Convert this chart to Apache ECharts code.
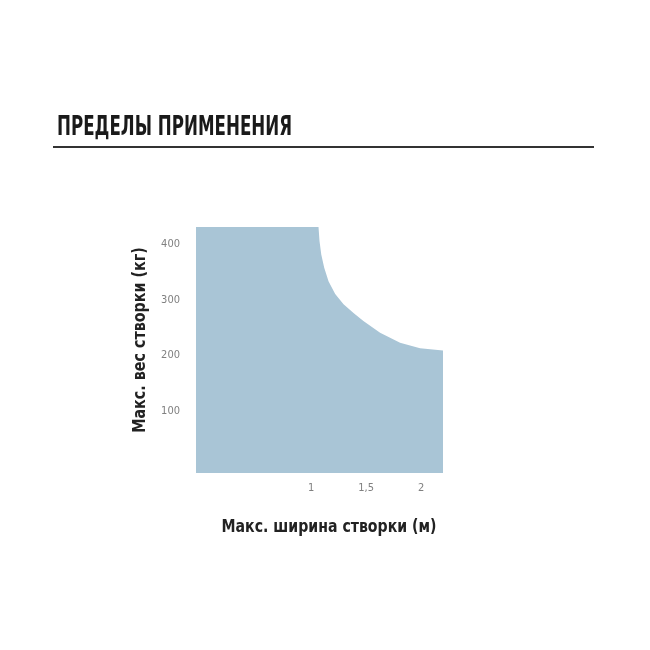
<!DOCTYPE html>
<html>
<head>
<meta charset="utf-8">
<script src="https://cdn.jsdelivr.net/npm/echarts@6/dist/echarts.min.js"></script>
<style>html,body{margin:0;padding:0;background:#fff;}#c{width:650px;height:650px;}</style>
</head>
<body>
<div id="c"></div>
<script>
var titleText = 'ПРЕДЕЛЫ ПРИМЕНЕНИЯ';
var xName = 'Макс. ширина створки (м)';
var yName = 'Макс. вес створки (кг)';
var xTicks = [1, 1.5, 2];
var xTickLabels = ['1', '1,5', '2'];
var yTicks = [100, 200, 300, 400];
var yTickLabels = ['100', '200', '300', '400'];
// boundary of permitted area: width (m), weight (kg)
var widths  = [-0.05, 1.066, 1.075, 1.091, 1.118, 1.157, 1.218, 1.294, 1.385, 1.475, 1.627, 1.809, 1.991, 2.2];
var weights = [430,   430,   405,   381,   357,   333,   310,   292,   276,   262,   241,   223,   213,   209];

var chart = echarts.init(document.getElementById('c'));
var FONT = '"DejaVu Sans Condensed", "Liberation Sans Narrow", sans-serif';
var FILL = '#a9c5d6';
function near(v, list){ for (var i=0;i<list.length;i++){ if (Math.abs(v-list[i])<1e-6) return i; } return -1; }
chart.setOption({
  animation: false,
  grid: {left: 196, right: 207, top: 227, bottom: 177},
  xAxis: {
    type: 'value', min: -0.05, max: 2.2, interval: 0.05,
    axisLine: {show: false}, axisTick: {show: false}, splitLine: {show: false},
    axisLabel: {
      interval: 0, showMinLabel: true, showMaxLabel: false, hideOverlap: false,
      color: '#808080', fontFamily: FONT, fontSize: 11, margin: 10,
      formatter: function(v){ var i = near(v, xTicks); return i >= 0 ? xTickLabels[i] : ''; }
    }
  },
  yAxis: {
    type: 'value', min: -10, max: 430, interval: 10,
    axisLine: {show: false}, axisTick: {show: false}, splitLine: {show: false},
    axisLabel: {
      interval: 0, hideOverlap: false,
      color: '#808080', fontFamily: FONT, fontSize: 11, margin: 16,
      formatter: function(v){ var i = near(v, yTicks); return i >= 0 ? yTickLabels[i] : ''; }
    }
  },
  series: [{
    type: 'line',
    data: widths.map(function(w, i){ return [w, weights[i]]; }),
    symbol: 'none',
    lineStyle: {width: 0},
    areaStyle: {color: FILL, opacity: 1, origin: 'start'}
  }],
  graphic: [
    {type: 'text', left: 57, top: 114, scaleX: 0.687,
     style: {text: titleText, font: 'bold 27px ' + FONT, fill: '#1a1a1a'}},
    {type: 'line', shape: {x1: 53, y1: 147, x2: 594, y2: 147}, style: {stroke: '#333', lineWidth: 2}},
    {type: 'text', x: 329, y: 528, scaleX: 0.923,
     style: {text: xName, font: 'bold 17px ' + FONT, fill: '#222', align: 'center', verticalAlign: 'middle'}},
    {type: 'text', x: 141, y: 340, rotation: Math.PI/2, scaleX: 0.936,
     style: {text: yName, font: 'bold 17px ' + FONT, fill: '#222', align: 'center', verticalAlign: 'middle'}}
  ]
});
</script>
</body>
</html>
